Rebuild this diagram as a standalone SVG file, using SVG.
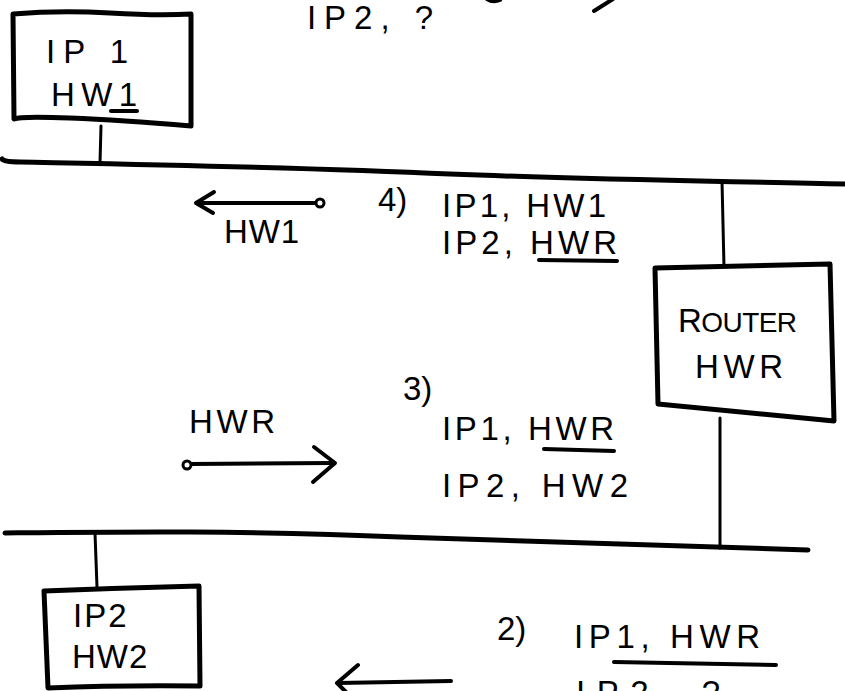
<svg xmlns="http://www.w3.org/2000/svg" width="845" height="691" viewBox="0 0 845 691">
  <style>
    .bg { fill: #ffffff; }
    .box { fill: #ffffff; stroke: #000; stroke-width: 5; stroke-linejoin: round; }
    .ln { fill: none; stroke: #000; stroke-width: 4; stroke-linecap: round; stroke-linejoin: round; }
    .bus { fill: none; stroke: #000; stroke-width: 5; stroke-linecap: round; stroke-linejoin: round; }
    .thin { fill: none; stroke: #000; stroke-width: 3; stroke-linecap: round; stroke-linejoin: round; }
    .ul { fill: none; stroke: #000; stroke-width: 4; stroke-linecap: round; }
    .dot { fill: #fff; stroke: #000; stroke-width: 3; }
    text { font-family: "Liberation Sans", "DejaVu Sans", sans-serif; fill: #000; font-size: 33px; }
  </style>
  <rect class="bg" x="0" y="0" width="845" height="691"/>

  <g id="connectors">
    <!-- network segments -->
    <path id="bus-top" class="bus" d="M2,159 Q4,162 20,162 C120,164 300,167 450,174 C600,180 720,181 845,184"/>
    <path id="bus-bottom" class="bus" d="M5,533 C100,532 250,530 400,537 C560,543 700,547 808,550"/>
    <!-- host drops -->
    <path class="thin" d="M101,126 L100,163"/>
    <path class="thin" d="M722,181 L724,267"/>
    <path class="thin" d="M720,418 L720,548"/>
    <path class="thin" d="M95,533 L97,587"/>
    <!-- step 4 arrow -->
    <path class="ln" d="M197,203 L315,203"/>
    <path class="ln" d="M214,192 L196,203 L213,213"/>
    <circle class="dot" cx="320" cy="203" r="4"/>
    <!-- step 3 arrow -->
    <path class="ln" d="M191,464 L333,463"/>
    <path class="ln" d="M314,447 L335,463 L313,482"/>
    <circle class="dot" cx="187" cy="465" r="4"/>
    <!-- step 2 arrow -->
    <path class="ln" d="M338,683 L451,681"/>
    <path class="ln" d="M358,665 L337,683 L350,696"/>
    <!-- step 1 arrow (cut at top) -->
    <path class="ln" d="M613,-1 L594,11"/>
    <path class="ln" d="M487,-1 Q493,3 500,0"/>
  </g>

  <g id="host-ip1">
    <path class="box" d="M13,14 Q60,10 110,13 T191,14 L191,126 Q120,120 70,118 T14,119 Z"/>
    <text x="46" y="63" font-size="35" textLength="82" lengthAdjust="spacing">IP 1</text>
    <text x="51" y="106" textLength="86" lengthAdjust="spacing">HW1</text>
    <path class="ul" d="M111,111 L137,111"/>
  </g>

  <g id="router">
    <path class="box" d="M655,268 L830,264 Q832,340 834,421 L658,404 Z"/>
    <text x="678" y="332" font-size="34" textLength="119" lengthAdjust="spacing">R<tspan font-size="28">OUTER</tspan></text>
    <text x="695" y="378" font-size="38" textLength="88" lengthAdjust="spacing">HWR</text>
  </g>

  <g id="host-ip2">
    <path class="box" d="M44,591 Q120,588 199,586 L200,686 Q120,685 48,688 Z"/>
    <text x="73" y="627" font-size="30" letter-spacing="2">IP2</text>
    <text x="72" y="668" font-size="28" letter-spacing="1">HW2</text>
  </g>

  <g id="labels">
    <text x="307" y="29" textLength="126" lengthAdjust="spacing">IP2, ?</text>

    <text x="378" y="211" font-size="31">4)</text>
    <text x="442" y="217" textLength="164" lengthAdjust="spacing">IP1, HW1</text>
    <text x="442" y="254" textLength="175" lengthAdjust="spacing">IP2, HWR</text>
    <path class="ul" d="M539,260 L617,261"/>
    <text x="224" y="243" textLength="75" lengthAdjust="spacing">HW1</text>

    <text x="403" y="400" font-size="42">3)</text>
    <text x="189" y="433" textLength="86" lengthAdjust="spacing">HWR</text>
    <text x="442" y="440" textLength="172" lengthAdjust="spacing">IP1, HWR</text>
    <path class="ul" d="M544,449 L614,451"/>
    <text x="442" y="497" textLength="186" lengthAdjust="spacing">IP2, HW2</text>

    <text x="497" y="640">2)</text>
    <text x="574" y="648" font-size="35" textLength="186" lengthAdjust="spacing">IP1, HWR</text>
    <path class="ul" d="M614,662 L776,665"/>
    <text x="576" y="704" font-size="33" textLength="144" lengthAdjust="spacing">IP2, ?</text>
  </g>
</svg>
